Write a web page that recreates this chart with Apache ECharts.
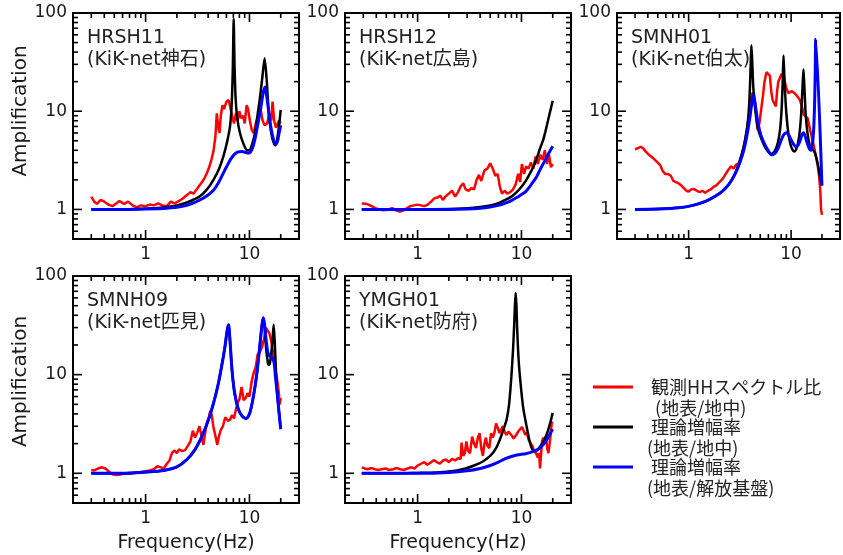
<!DOCTYPE html>
<html>
<head>
<meta charset="utf-8">
<script src="https://cdn.jsdelivr.net/npm/echarts@6/dist/echarts.min.js"></script>
<style>
  html, body { margin: 0; padding: 0; background: #fff; }
  #chart { width: 843px; height: 555px; }
</style>
</head>
<body>
<div id="chart"></div>
<script>
// panel titles
const STATIONS = [
  'HRSH11\n(KiK-net神石)',
  'HRSH12\n(KiK-net広島)',
  'SMNH01\n(KiK-net伯太)',
  'SMNH09\n(KiK-net匹見)',
  'YMGH01\n(KiK-net防府)',
];
const SERIES_NAMES = ['観測HHスペクトル比(地表/地中)', '理論増幅率(地表/地中)', '理論増幅率(地表/解放基盤)'];
// first line left blank so the icon sits on the first text line
const LEGEND_TEXT = ['\n 観測HHスペクトル比\n  (地表/地中)', '\n 理論増幅率\n(地表/地中)', '\n 理論増幅率\n(地表/解放基盤)'];
const COLORS = ['#ff0000', '#000000', '#0000ff'];

// axis ranges and ticks
const X_MIN = 0.2, X_MAX = 30;
const Y_MIN = 0.5, Y_MAX = 100;
const X_MAJOR = [1, 10];
const X_MINOR = [0.3, 0.4, 0.5, 0.6, 0.7, 0.8, 0.9, 2, 3, 4, 5, 6, 7, 8, 9, 20];
const Y_MAJOR = [1, 10];
const Y_MINOR = [0.6, 0.7, 0.8, 0.9, 2, 3, 4, 5, 6, 7, 8, 9, 20, 30, 40, 50, 60, 70, 80, 90];

// ---- HRSH11 ----
const OBS_HRSH11 = [[0.30,1.35],[0.32,1.2],[0.34,1.14],[0.37,1.25],[0.40,1.2],[0.44,1.12],[0.48,1.08],[0.52,1.15],[0.56,1.22],[0.62,1.14],[0.68,1.2],[0.75,1.1],[0.82,1.05],[0.9,1.1],[1.0,1.08],[1.1,1.12],[1.2,1.1],[1.32,1.15],[1.45,1.1],[1.6,1.08],[1.75,1.2],[1.9,1.15],[2.1,1.22],[2.3,1.3],[2.5,1.4],[2.7,1.5],[2.9,1.45],[3.1,1.6],[3.3,1.75],[3.5,1.9],[3.7,2.1],[3.9,2.35],[4.1,2.7],[4.3,3.2],[4.5,3.9],[4.7,5.5],[4.85,9.5],[5.0,7.0],[5.15,6.0],[5.3,9.0],[5.5,11.5],[5.7,10.5],[6.0,12.5],[6.3,13],[6.6,10.5],[6.9,8.5],[7.1,7.5],[7.4,9.5],[7.7,8.0],[8.0,10.0],[8.3,8.5],[8.7,9.0],[9.0,7.5],[9.4,11.5],[9.7,10.5],[10.1,8.0],[10.5,6.5],[11.0,6.0],[11.5,7.5],[12.2,9.0],[12.8,10.5],[13.4,8.0],[14.0,7.2],[14.8,7.5],[15.5,9.5],[16.2,8.0],[16.7,12.5],[17.3,8.0],[18.0,6.8],[18.5,6.5],[19.2,8.0],[20,7.5]];
const TH1_HRSH11 = [[0.3,1.0],[0.5,1.0],[0.8,1.01],[1.2,1.03],[1.6,1.06],[2.0,1.1],[2.5,1.18],[3.3,1.35],[3.9,1.6],[4.5,2.0],[5.1,2.6],[5.6,3.45],[6.1,4.9],[6.5,7.0],[6.75,12],[6.92,28],[7.05,87],[7.18,30],[7.35,14],[7.6,8.8],[8.1,6.0],[8.8,4.6],[9.5,4.0],[10.0,4.0],[10.6,4.6],[11.3,6.0],[11.9,8.8],[12.6,13.5],[13.3,22],[14.0,34.7],[14.6,22],[15.2,11],[15.8,7.2],[16.6,5.3],[17.4,4.6],[17.9,4.5],[18.6,5.4],[19.3,7.2],[20,10.3]];
const TH2_HRSH11 = [[0.3,1.0],[0.6,1.0],[1.0,1.01],[1.6,1.03],[2.2,1.07],[2.8,1.15],[3.3,1.24],[3.9,1.38],[4.5,1.57],[5.0,1.85],[5.5,2.25],[6.0,2.7],[6.6,3.25],[7.2,3.65],[7.8,3.85],[8.5,3.9],[9.2,3.8],[9.9,3.75],[10.6,4.1],[11.3,5.2],[12.0,7.2],[12.8,10.5],[13.5,15],[14.1,17.6],[14.7,14],[15.4,9.5],[16.2,6.6],[17.0,5.2],[17.8,4.6],[18.6,4.9],[19.3,6],[20,7.2]];

// ---- HRSH12 ----
const OBS_HRSH12 = [[0.29,1.15],[0.32,1.14],[0.35,1.1],[0.39,1.03],[0.43,1.0],[0.47,0.98],[0.52,1.0],[0.57,1.03],[0.62,0.98],[0.67,0.95],[0.72,0.97],[0.78,1.02],[0.85,1.08],[0.92,1.1],[1.0,1.12],[1.08,1.1],[1.16,1.08],[1.25,1.12],[1.35,1.2],[1.45,1.3],[1.55,1.32],[1.65,1.38],[1.75,1.25],[1.85,1.35],[2.0,1.45],[2.15,1.55],[2.3,1.35],[2.45,1.5],[2.6,1.72],[2.75,1.85],[2.9,1.6],[3.1,1.55],[3.3,1.65],[3.5,1.6],[3.7,2.0],[3.9,2.25],[4.1,1.95],[4.4,2.5],[4.7,2.6],[5.0,2.95],[5.3,2.6],[5.6,2.2],[5.9,2.3],[6.2,1.7],[6.5,1.45],[6.9,1.55],[7.3,1.45],[7.8,1.5],[8.3,1.6],[8.8,1.8],[9.3,2.3],[9.7,1.9],[10.1,2.9],[10.6,2.3],[11.1,2.75],[11.7,2.6],[12.3,3.0],[13.0,2.6],[13.7,3.45],[14.4,2.9],[15.2,3.6],[16.0,3.2],[16.8,4.0],[17.6,2.9],[18.4,3.6],[19.2,2.7],[20,2.9]];
const TH1_HRSH12 = [[0.29,1.0],[0.6,1.0],[1.0,1.0],[2.0,1.01],[3.0,1.03],[4.0,1.06],[5.0,1.1],[6.0,1.16],[7.0,1.25],[8.0,1.35],[9.0,1.5],[10.0,1.7],[11.0,1.95],[12.0,2.3],[13.0,2.7],[14.0,3.3],[15.0,4.1],[16.2,5.1],[17.0,6.2],[18.0,8.0],[19.0,10.2],[20,12.8]];
const TH2_HRSH12 = [[0.29,1.0],[1.0,1.0],[2.0,1.0],[3.0,1.01],[4.0,1.03],[5.0,1.06],[6.0,1.1],[7.0,1.16],[8.0,1.23],[9.0,1.32],[10.0,1.42],[11.0,1.52],[12.0,1.7],[13.0,1.92],[14.0,2.15],[15.0,2.5],[16.0,2.85],[17.0,3.2],[18.0,3.6],[19.0,4.0],[20,4.4]];

// ---- SMNH01 ----
const OBS_SMNH01 = [[0.3,4.1],[0.32,4.2],[0.34,4.35],[0.36,4.2],[0.38,3.9],[0.41,3.6],[0.44,3.4],[0.47,3.2],[0.5,3.0],[0.53,2.8],[0.56,2.45],[0.59,2.3],[0.63,2.3],[0.67,2.2],[0.71,1.95],[0.75,1.9],[0.8,1.84],[0.85,1.75],[0.9,1.65],[0.95,1.55],[1.0,1.52],[1.06,1.6],[1.12,1.62],[1.2,1.55],[1.28,1.5],[1.36,1.55],[1.45,1.48],[1.55,1.55],[1.65,1.6],[1.75,1.7],[1.85,1.75],[2.0,1.9],[2.15,2.05],[2.3,2.3],[2.45,2.55],[2.6,2.75],[2.75,2.6],[2.9,2.85],[3.1,2.95],[3.3,3.6],[3.5,4.6],[3.7,6.5],[3.85,8.5],[4.0,12],[4.15,15.3],[4.35,15],[4.5,11],[4.7,6.5],[4.9,7.5],[5.1,10.3],[5.3,14],[5.5,20],[5.75,25],[6.0,24.5],[6.2,23],[6.4,16],[6.6,13],[6.85,12],[7.1,11.2],[7.3,16],[7.5,20],[7.8,22],[8.1,24],[8.5,22],[9.0,17],[9.4,15.3],[9.8,15.5],[10.2,16],[10.6,15.5],[11.0,15],[11.6,14],[12.2,13],[12.8,11],[13.3,9.2],[13.8,9.0],[14.5,8.5],[15.3,6.5],[16.2,5.1],[17.0,4.0],[17.5,3.45],[18.2,2.8],[18.8,2.15],[19.3,1.5],[19.6,1.0],[20,0.88]];
const TH1_SMNH01 = [[0.3,1.0],[0.5,1.01],[0.8,1.04],[1.1,1.1],[1.5,1.22],[2.0,1.45],[2.3,1.65],[2.6,1.95],[2.9,2.45],[3.2,3.3],[3.45,4.4],[3.7,6.5],[3.85,9.5],[3.97,18],[4.05,35],[4.1,47],[4.17,33],[4.27,18],[4.4,12],[4.7,7],[5.0,5.6],[5.5,4.4],[6.0,3.85],[6.4,3.7],[6.9,3.9],[7.4,4.7],[7.8,6.5],[8.1,11],[8.3,22],[8.43,37],[8.6,22],[8.9,11],[9.3,6.5],[9.8,4.7],[10.4,4.0],[10.8,3.9],[11.4,4.3],[12.0,5.6],[12.5,9],[12.9,17],[13.2,26.8],[13.5,17],[13.9,9],[14.5,5.8],[15.2,4.5],[15.8,4.1],[16.5,4.0],[17.3,3.6],[18.2,2.9],[19.2,2.1],[20,1.75]];
const TH2_SMNH01 = [[0.3,1.0],[0.5,1.01],[0.8,1.04],[1.1,1.1],[1.5,1.22],[2.0,1.45],[2.3,1.65],[2.6,1.95],[2.9,2.4],[3.2,3.1],[3.45,4.0],[3.7,5.6],[3.97,8.8],[4.15,12.5],[4.27,14.7],[4.45,12],[4.76,7.5],[5.1,5.6],[5.53,4.6],[6.0,3.95],[6.4,3.6],[6.9,3.7],[7.4,4.1],[7.9,4.9],[8.4,5.7],[8.95,6.05],[9.5,5.7],[10.0,5.1],[10.6,4.6],[11.1,4.35],[11.7,4.5],[12.3,5.1],[12.8,5.8],[13.2,6.05],[13.7,5.6],[14.3,4.8],[15.0,4.2],[15.6,4.0],[16.1,4.5],[16.6,6.5],[16.95,12],[17.2,25],[17.4,54],[20,1.75]];

// ---- SMNH09 ----
const OBS_SMNH09 = [[0.3,1.08],[0.32,1.07],[0.35,1.12],[0.38,1.15],[0.41,1.12],[0.44,1.05],[0.48,0.98],[0.52,0.96],[0.57,0.97],[0.62,1.0],[0.68,0.99],[0.75,1.0],[0.82,1.02],[0.9,1.03],[1.0,1.05],[1.1,1.07],[1.2,1.1],[1.3,1.18],[1.4,1.15],[1.5,1.12],[1.6,1.25],[1.7,1.35],[1.8,1.62],[1.9,1.7],[2.0,1.6],[2.1,1.75],[2.25,1.68],[2.4,1.72],[2.55,1.9],[2.7,2.1],[2.85,2.7],[3.0,2.3],[3.15,2.6],[3.3,3.0],[3.45,2.4],[3.6,1.95],[3.75,2.6],[3.9,3.3],[4.05,3.6],[4.2,4.3],[4.35,3.8],[4.5,2.95],[4.7,2.4],[4.9,1.95],[5.1,2.4],[5.3,2.75],[5.55,3.0],[5.85,3.7],[6.2,3.4],[6.5,3.5],[6.8,3.9],[7.1,3.6],[7.4,4.4],[7.7,5.2],[8.0,5.6],[8.4,7.5],[8.8,5.5],[9.2,5.8],[9.6,6.5],[10.0,6.0],[10.5,8.5],[11.0,10.5],[11.5,12],[12.0,16],[12.6,17],[13.2,19],[13.8,23],[14.4,30],[15.0,31],[15.6,26],[16.2,22],[16.8,17],[17.4,13],[18.0,10.5],[18.6,8.5],[19.2,6.5],[19.6,5.0],[20,5.8]];
const TH1_SMNH09 = [[0.3,1.0],[0.6,1.0],[1.0,1.03],[1.5,1.07],[2.0,1.16],[2.5,1.38],[3.0,1.75],[3.5,2.4],[4.0,3.4],[4.5,5.1],[5.0,8],[5.4,12.2],[5.8,19],[6.1,28],[6.3,32],[6.5,22],[6.8,11],[7.2,6.5],[7.8,4.5],[8.5,3.8],[9.3,3.6],[10.0,4.0],[10.6,5.1],[11.3,7.5],[11.9,11.2],[12.6,20],[13.2,32],[13.6,37.7],[14.0,30],[14.5,18],[15.0,13.5],[15.3,12.5],[15.7,13],[16.2,16],[16.7,23],[17.1,32],[17.5,22],[18.0,11],[18.5,6.5],[19.2,4.3],[20,2.8]];
const TH2_SMNH09 = [[0.3,1.0],[0.6,1.0],[1.0,1.03],[1.5,1.07],[2.0,1.16],[2.5,1.38],[3.0,1.75],[3.5,2.4],[4.0,3.4],[4.5,5.1],[5.0,8],[5.4,12.2],[5.8,19],[6.1,28],[6.3,32],[6.5,22],[6.8,11],[7.2,6.5],[7.8,4.5],[8.5,3.8],[9.3,3.6],[10.0,4.0],[10.6,5.1],[11.3,7.5],[11.9,11.2],[12.6,20],[13.2,32],[13.6,37.7],[14.0,32],[14.5,22],[15.0,17],[15.6,15.5],[16.2,15.2],[16.8,14.5],[17.3,13],[17.8,9.5],[18.5,6.5],[19.2,4.3],[20,2.8]];

// ---- YMGH01 ----
const OBS_YMGH01 = [[0.29,1.15],[0.31,1.12],[0.33,1.1],[0.36,1.13],[0.39,1.1],[0.42,1.08],[0.45,1.1],[0.49,1.12],[0.53,1.08],[0.58,1.1],[0.63,1.13],[0.68,1.1],[0.74,1.08],[0.8,1.12],[0.87,1.15],[0.94,1.12],[1.0,1.2],[1.08,1.25],[1.16,1.3],[1.24,1.22],[1.33,1.28],[1.43,1.36],[1.53,1.3],[1.64,1.25],[1.76,1.35],[1.88,1.38],[2.0,1.3],[2.15,1.4],[2.3,1.35],[2.45,1.42],[2.6,1.4],[2.65,2.05],[2.75,1.5],[2.85,1.6],[2.95,2.1],[3.05,1.7],[3.2,1.6],[3.35,2.35],[3.5,2.0],[3.65,1.8],[3.8,2.3],[3.95,2.55],[4.1,1.8],[4.25,1.5],[4.4,2.0],[4.55,2.3],[4.7,1.9],[4.9,1.8],[5.1,2.55],[5.3,2.3],[5.5,2.6],[5.7,3.2],[5.9,2.9],[6.15,2.55],[6.4,2.8],[6.65,3.0],[6.9,2.6],[7.2,2.45],[7.5,2.65],[7.8,2.75],[8.1,2.4],[8.4,2.25],[8.8,2.4],[9.3,2.65],[9.7,2.8],[10.1,2.95],[10.5,2.7],[10.9,2.45],[11.3,2.6],[11.7,2.2],[12.2,2.1],[12.7,1.9],[13.2,1.7],[13.8,1.6],[14.4,1.45],[14.8,1.6],[15.1,1.12],[15.4,1.5],[15.8,2.1],[16.2,2.3],[16.7,2.0],[17.2,2.4],[17.7,1.8],[18.2,1.6],[18.7,2.0],[19.2,2.6],[19.6,3.3],[20,3.2]];
const TH1_YMGH01 = [[0.29,1.0],[0.6,1.0],[1.0,1.01],[1.5,1.02],[1.9,1.04],[2.4,1.07],[2.9,1.12],[3.5,1.2],[4.2,1.31],[5.0,1.5],[5.7,1.8],[6.3,2.3],[6.8,2.9],[7.2,3.5],[7.6,5.0],[8.0,9.6],[8.3,18],[8.5,31],[8.65,50],[8.8,67.7],[8.95,50],[9.1,28.7],[9.4,14],[9.8,8.2],[10.4,4.6],[11.2,3.0],[12.0,2.1],[13.0,1.7],[14.0,1.7],[15.0,1.85],[16.0,2.05],[17.0,2.3],[18.0,2.7],[19.0,3.3],[20,4.1]];
const TH2_YMGH01 = [[0.29,1.0],[1.0,1.0],[2.0,1.02],[3.0,1.06],[4.0,1.12],[5.0,1.2],[6.0,1.3],[7.0,1.41],[8.0,1.48],[9.0,1.53],[10.0,1.56],[11.0,1.58],[12.0,1.62],[13.0,1.66],[14.0,1.72],[15.0,1.8],[16.0,1.92],[17.0,2.08],[18.0,2.3],[19.0,2.55],[20,2.8]];

const PANEL_DATA = [
  [OBS_HRSH11, TH1_HRSH11, TH2_HRSH11],
  [OBS_HRSH12, TH1_HRSH12, TH2_HRSH12],
  [OBS_SMNH01, TH1_SMNH01, TH2_SMNH01],
  [OBS_SMNH09, TH1_SMNH09, TH2_SMNH09],
  [OBS_YMGH01, TH1_YMGH01, TH2_YMGH01],
];

// layout
const GRIDS = [
  { left: 73, top: 13, width: 226, height: 226 },
  { left: 345, top: 13, width: 226, height: 226 },
  { left: 617, top: 13, width: 224, height: 226 },
  { left: 73, top: 276, width: 226, height: 227 },
  { left: 345, top: 276, width: 226, height: 227 },
];
const LEGEND_ICON_Y = [387, 427, 467];

const FONT = 'DejaVu Sans, Noto Sans CJK JP, sans-serif';
const TEXT_COLOR = '#1a1a1a';

function decadeLabel(v) {
  const l = Math.log10(v);
  return Math.abs(l - Math.round(l)) < 1e-6 ? String(Math.round(v)) : '';
}

// tick marks on all four sides, placed through the axes
const tickData = [
  ...X_MAJOR.map((v) => [v, Y_MIN, 0, 9]),
  ...X_MINOR.map((v) => [v, Y_MIN, 0, 5]),
  ...Y_MAJOR.map((v) => [X_MIN, v, 1, 9]),
  ...Y_MINOR.map((v) => [X_MIN, v, 1, 5]),
];

function renderTick(params, api) {
  const kind = api.value(2);
  const len = api.value(3);
  const a = api.coord([api.value(0), api.value(1)]);
  let lines;
  if (kind === 0) {
    const b = api.coord([api.value(0), Y_MAX]);
    lines = [[a[0], a[1], a[0], a[1] - len], [b[0], b[1], b[0], b[1] + len]];
  } else {
    const b = api.coord([X_MAX, api.value(1)]);
    lines = [[a[0], a[1], a[0] + len, a[1]], [b[0], b[1], b[0] - len, b[1]]];
  }
  return {
    type: 'group',
    children: lines.map((l) => ({
      type: 'line',
      shape: { x1: l[0], y1: l[1], x2: l[2], y2: l[3] },
      style: { stroke: '#000', lineWidth: 1.6 },
    })),
  };
}

const chart = echarts.init(document.getElementById('chart'));

const grid = GRIDS.map((g) => ({
  ...g,
  containLabel: false,
  show: true,
  borderColor: '#000',
  borderWidth: 2,
  backgroundColor: 'transparent',
}));

const xAxis = GRIDS.map((g, i) => ({
  gridIndex: i,
  type: 'log',
  min: X_MIN,
  max: X_MAX,
  axisLine: { show: false },
  axisTick: { show: false },
  splitLine: { show: false },
  axisLabel: { margin: 7, fontSize: 17, color: TEXT_COLOR, fontFamily: FONT, formatter: decadeLabel },
  name: i >= 3 ? 'Frequency(Hz)' : '',
  nameLocation: 'middle',
  nameGap: 31,
  nameTextStyle: { fontSize: 19, color: TEXT_COLOR, fontFamily: FONT },
}));

const yAxis = GRIDS.map((g, i) => ({
  gridIndex: i,
  type: 'log',
  min: Y_MIN,
  max: Y_MAX,
  axisLine: { show: false },
  axisTick: { show: false },
  splitLine: { show: false },
  axisLabel: { margin: 6, fontSize: 17, color: TEXT_COLOR, fontFamily: FONT, formatter: decadeLabel },
  name: i % 3 === 0 ? 'Amplification' : '',
  nameLocation: 'middle',
  nameGap: 40,
  nameTextStyle: {
    fontSize: 20, color: TEXT_COLOR, fontFamily: FONT,
    padding: [0, 0, 0, i === 0 ? 30 : 16],
  },
}));

const series = [];
PANEL_DATA.forEach((curves, i) => {
  curves.forEach((data, k) => {
    series.push({
      name: SERIES_NAMES[k],
      type: 'line',
      xAxisIndex: i,
      yAxisIndex: i,
      data: data,
      symbol: 'none',
      showSymbol: false,
      smooth: k === 0 ? false : 0.25,
      lineStyle: { color: COLORS[k], width: k === 2 ? 3 : 2.5 },
      itemStyle: { color: COLORS[k] },
      z: 2 + k,
      silent: true,
    });
  });
  series.push({
    type: 'custom',
    xAxisIndex: i,
    yAxisIndex: i,
    data: tickData,
    renderItem: renderTick,
    clip: false,
    silent: true,
    z: 10,
  });
});

const title = STATIONS.map((s, i) => ({
  text: s,
  left: GRIDS[i].left + 14,
  top: GRIDS[i].top + 14,
  padding: 0,
  textStyle: { fontSize: 19, fontWeight: 'normal', color: '#222', fontFamily: FONT, lineHeight: 22 },
}));

const legend = SERIES_NAMES.map((n, k) => ({
  data: [n],
  left: 593,
  top: LEGEND_ICON_Y[k] - 31.5,
  padding: 0,
  orient: 'vertical',
  icon: 'rect',
  itemWidth: 40,
  itemHeight: 3,
  selectedMode: false,
  formatter: () => LEGEND_TEXT[k],
  textStyle: {
    fontSize: 18, color: '#222', fontFamily: 'Noto Sans CJK JP',
    lineHeight: 21, padding: [0, 0, 0, 9],
  },
}));

chart.setOption({
  animation: false,
  backgroundColor: '#fff',
  title,
  legend,
  grid,
  xAxis,
  yAxis,
  series,
});
</script>
</body>
</html>
